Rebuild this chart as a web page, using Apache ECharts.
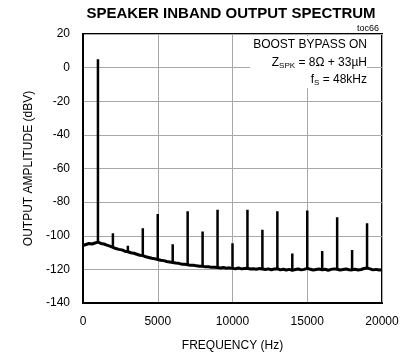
<!DOCTYPE html>
<html>
<head>
<meta charset="utf-8">
<script src="https://cdn.jsdelivr.net/npm/echarts@6/dist/echarts.min.js"></script>
<style>
html,body{margin:0;padding:0;background:#fff;}
#chart{width:406px;height:358px;}
</style>
</head>
<body>
<div id="chart"></div>
<script>
// x-axis / y-axis ticks
var xTicks = [0, 5000, 10000, 15000, 20000];
var yTicks = [-140, -120, -100, -80, -60, -40, -20, 0, 20];

// noise floor, sampled every 200 Hz from 0 to 20000 Hz (dBV)
var noiseStepHz = 200;
var noiseFloor = [
  -105.8, -105.2, -104.6, -104.9, -104.3, -103.8, -104.6, -104.9, -105.6, -106.2,
  -106.9, -107.6, -108.1, -108.4, -109.2, -109.5, -110.1, -110.4, -111.0, -111.6,
  -111.8, -112.5, -112.9, -113.4, -113.7, -114.1, -114.6, -114.8, -115.3, -115.6,
  -115.9, -116.2, -116.4, -116.9, -117.0, -117.2, -117.6, -117.5, -117.9, -118.2,
  -118.1, -118.5, -118.4, -118.8, -118.7, -118.9, -119.2, -118.9, -119.3, -119.1,
  -119.4, -119.6, -119.2, -119.7, -119.5, -119.3, -119.8, -119.6, -119.9, -119.5,
  -119.8, -120.1, -119.7, -120.2, -119.8, -119.6, -120.3, -119.9, -120.4, -120.0,
  -120.6, -120.1, -119.8, -120.3, -120.0, -119.4, -119.9, -120.4, -120.1, -119.8,
  -120.3, -119.9, -120.5, -120.0, -119.7, -119.9, -120.4, -120.1, -119.8, -120.2,
  -120.3, -119.9, -120.4, -120.1, -119.5, -119.2, -119.7, -120.3, -120.0, -120.4,
  -120.2
];

// fundamental and harmonics
var harmFreq = [1000, 2000, 3000, 4000, 5000, 6000, 7000, 8000, 9000, 10000,
                11000, 12000, 13000, 14000, 15000, 16000, 17000, 18000, 19000];
var harmPeak = [5, -98.5, -106, -95.5, -87, -105, -85.5, -97.5, -84.5, -104.5,
                -84.5, -96.5, -85.5, -110.5, -85, -109, -89, -108.5, -92.5];
var harmBase = [-103.8, -106.9, -109.5, -111.8, -114.1, -115.9, -117.2, -118.1, -118.9, -119.4,
                -119.3, -119.8, -119.6, -120.6, -119.4, -120.3, -119.9, -120.3, -119.2];

var noiseData = noiseFloor.map(function (v, i) { return [i * noiseStepHz, v]; });
var spikeData = [];
harmFreq.forEach(function (f, i) {
  spikeData.push([f, harmBase[i]]);
  spikeData.push([f, harmPeak[i]]);
  spikeData.push([f, '-']);
});

var FONT = 'Liberation Sans, Arial, sans-serif';
var chart = echarts.init(document.getElementById('chart'), null, {renderer: 'canvas'});
chart.setOption({
  animation: false,
  backgroundColor: '#fff',
  grid: {left: 83, right: 24, top: 34, bottom: 55, show: true, borderColor: '#000', borderWidth: 2, backgroundColor: 'transparent'},
  xAxis: {
    type: 'value', min: xTicks[0], max: xTicks[xTicks.length - 1], interval: 5000,
    name: 'FREQUENCY (Hz)', nameLocation: 'middle', nameGap: 37,
    nameTextStyle: {fontFamily: FONT, fontSize: 12, color: '#000'},
    axisLine: {show: true, onZero: false, lineStyle: {color: '#000', width: 2}},
    axisTick: {show: false},
    axisLabel: {fontFamily: FONT, fontSize: 12, color: '#000', margin: 13,
                formatter: function (v) { return String(v); }},
    splitLine: {show: true, lineStyle: {color: '#a8a8a8', width: 1}}
  },
  yAxis: {
    type: 'value', min: yTicks[0], max: yTicks[yTicks.length - 1], interval: 20,
    name: 'OUTPUT AMPLITUDE (dBV)', nameLocation: 'middle', nameGap: 44, nameRotate: 90,
    nameTextStyle: {fontFamily: FONT, fontSize: 12, color: '#000'},
    axisLine: {show: true, onZero: false, lineStyle: {color: '#000', width: 2}},
    axisTick: {show: false},
    axisLabel: {fontFamily: FONT, fontSize: 12, color: '#000', margin: 13},
    splitLine: {show: true, lineStyle: {color: '#a8a8a8', width: 1}}
  },
  series: [
    {type: 'line', data: noiseData, showSymbol: false, symbol: 'none',
     lineStyle: {color: '#000', width: 3}, z: 3},
    {type: 'line', data: spikeData, showSymbol: false, symbol: 'none', connectNulls: false,
     lineStyle: {color: '#000', width: 2.5}, z: 4}
  ],
  graphic: [
    {type: 'text', x: 231, y: 14, z: 100,
     style: {text: 'SPEAKER INBAND OUTPUT SPECTRUM', fontFamily: FONT, fontWeight: 'bold', fontSize: 15,
             fill: '#000', textAlign: 'center', textVerticalAlign: 'middle'}},
    {type: 'text', x: 379, y: 28.5, z: 100,
     style: {text: 'toc66', fontFamily: FONT, fontSize: 9, fill: '#000', textAlign: 'right', textVerticalAlign: 'middle'}},
    {type: 'rect', shape: {x: 250, y: 36, width: 117, height: 52}, style: {fill: '#fff'}, z: 99},
    {type: 'text', x: 367, y: 44.7, z: 100,
     style: {text: 'BOOST BYPASS ON', fontFamily: FONT, fontSize: 12, fill: '#000', textAlign: 'right', textVerticalAlign: 'middle'}},
    {type: 'text', x: 367, y: 63, z: 100,
     style: {text: '{a|Z}{s|SPK}{a| = 8Ω + 33µH}', fontFamily: FONT, fill: '#000', textAlign: 'right', textVerticalAlign: 'middle',
             rich: {a: {fontFamily: FONT, fontSize: 12, lineHeight: 14, fill: '#000'},
                    s: {fontFamily: FONT, fontSize: 8, lineHeight: 8, verticalAlign: 'bottom', fill: '#000'}}}},
    {type: 'text', x: 367, y: 79.5, z: 100,
     style: {text: '{a|f}{s|S}{a| = 48kHz}', fontFamily: FONT, fill: '#000', textAlign: 'right', textVerticalAlign: 'middle',
             rich: {a: {fontFamily: FONT, fontSize: 12, lineHeight: 14, fill: '#000'},
                    s: {fontFamily: FONT, fontSize: 8, lineHeight: 8, verticalAlign: 'bottom', fill: '#000'}}}}
  ]
});
</script>
</body>
</html>
